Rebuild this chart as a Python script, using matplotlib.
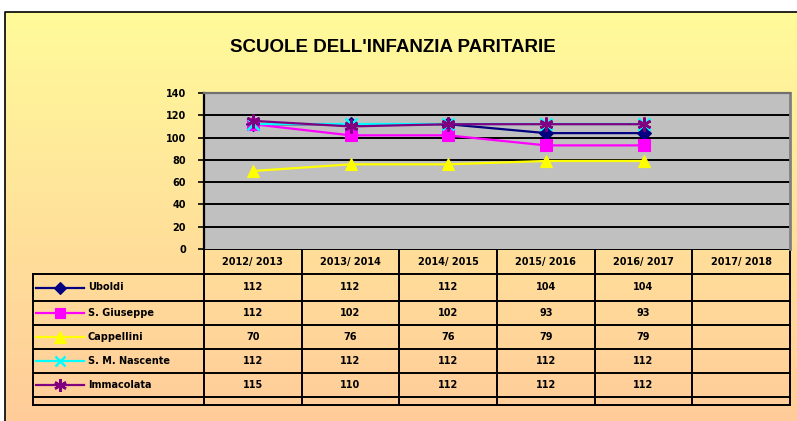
import numpy as np
import matplotlib
matplotlib.use("Agg")
import matplotlib.pyplot as plt
from matplotlib.colors import LinearSegmentedColormap

# data
years = ["2012/ 2013", "2013/ 2014", "2014/ 2015", "2015/ 2016", "2016/ 2017", "2017/ 2018"]
schools = ["Uboldi", "S. Giuseppe", "Cappellini", "S. M. Nascente", "Immacolata"]
uboldi = [112, 112, 112, 104, 104]
giuseppe = [112, 102, 102, 93, 93]
cappellini = [70, 76, 76, 79, 79]
nascente = [112, 112, 112, 112, 112]
immacolata = [115, 110, 112, 112, 112]
series = [uboldi, giuseppe, cappellini, nascente, immacolata]

colors = ["#000080", "#FF00FF", "#FFFF00", "#00FFFF", "#800080"]
markers = ["D", "s", "^", "x", (6, 2, 0)]
msizes = [7, 8, 9, 8, 10]

W, H = 797, 421
fig = plt.figure(figsize=(W / 100, H / 100), dpi=100)
fig.patch.set_facecolor("white")

# background with gradient and frame, pixel coordinates
bg = fig.add_axes([0, 0, 1, 1])
bg.set_xlim(0, W)
bg.set_ylim(H, 0)
bg.axis("off")
cmap = LinearSegmentedColormap.from_list("bg", ["#FFFB9B", "#FFE29A", "#FFCC99"])
grad = np.linspace(0, 1, 256).reshape(-1, 1)
bg.imshow(grad, cmap=cmap, aspect="auto", extent=[5, W + 2, H + 2, 12], zorder=0)
bg.plot([5, 5, W + 2], [H + 2, 12, 12], color="black", lw=1.2, zorder=1)

bg.text(393, 48, "SCUOLE DELL'INFANZIA PARITARIE", ha="center", va="center",
        fontsize=13.5, fontweight="bold", family="Liberation Sans",
        color="black")

def edge_width(m):
    return 1.8 if m in ("x", (6, 2, 0)) else 0.8

# plot area
px0, px1, py0, py1 = 204, 790, 93, 249
ax = fig.add_axes([px0 / W, 1 - py1 / H, (px1 - px0) / W, (py1 - py0) / H])
ax.set_facecolor("#C0C0C0")
ncat = len(years)
ax.set_xlim(-0.5, ncat - 0.5)
ax.set_ylim(0, 140)
ax.set_yticks(range(0, 141, 20))
ax.set_yticklabels([str(v) for v in range(0, 141, 20)],
                   fontsize=7, fontweight="bold")
ax.set_xticks([])
for v in range(20, 140, 20):
    ax.axhline(v, color="black", lw=1.4, zorder=1)
ax.spines["left"].set_linewidth(1.6)
ax.spines["bottom"].set_visible(False)
ax.spines["top"].set_color("#707070")
ax.spines["top"].set_linewidth(1.6)
ax.spines["right"].set_color("#808080")
ax.spines["right"].set_linewidth(2)
ax.tick_params(axis="y", length=4, width=1.2, pad=9)

for vals, c, m, ms in zip(series, colors, markers, msizes):
    ax.plot(range(len(vals)), vals, color=c, marker=m, markersize=ms, lw=1.6,
            markeredgewidth=edge_width(m), markeredgecolor=c, zorder=3)

# data table below the plot
col_w = (px1 - px0) / ncat
col_edges = [px0 + i * col_w for i in range(ncat + 1)]
row_edges = [249, 274, 301, 325, 349, 373, 397, 405]
tx0 = 33
lw = 1.4
bg.plot([px0, px1], [row_edges[0], row_edges[0]], color="black", lw=lw, zorder=2)
for y in row_edges[1:]:
    bg.plot([tx0, px1], [y, y], color="black", lw=lw, zorder=2)
for x in col_edges:
    bg.plot([x, x], [row_edges[0], row_edges[-1]], color="black", lw=lw, zorder=2)
bg.plot([tx0, tx0], [row_edges[1], row_edges[-1]], color="black", lw=lw, zorder=2)

for i, yr in enumerate(years):
    cx = (col_edges[i] + col_edges[i + 1]) / 2
    bg.text(cx, (row_edges[0] + row_edges[1]) / 2, yr, ha="center", va="center",
            fontsize=7, fontweight="bold")

for r, (name, vals, c, m, ms) in enumerate(zip(schools, series, colors, markers, msizes)):
    cy = (row_edges[r + 1] + row_edges[r + 2]) / 2
    bg.plot([36, 84], [cy, cy], color=c, lw=1.6, zorder=3)
    bg.plot([60], [cy], color=c, marker=m, markersize=ms - 1, markeredgecolor=c,
            markeredgewidth=edge_width(m), zorder=3)
    bg.text(88, cy, name, ha="left", va="center", fontsize=7, fontweight="bold")
    for i, v in enumerate(vals):
        cx = (col_edges[i] + col_edges[i + 1]) / 2
        bg.text(cx, cy, str(v), ha="center", va="center",
                fontsize=7, fontweight="bold")

fig.savefig("out.png", dpi=100)
